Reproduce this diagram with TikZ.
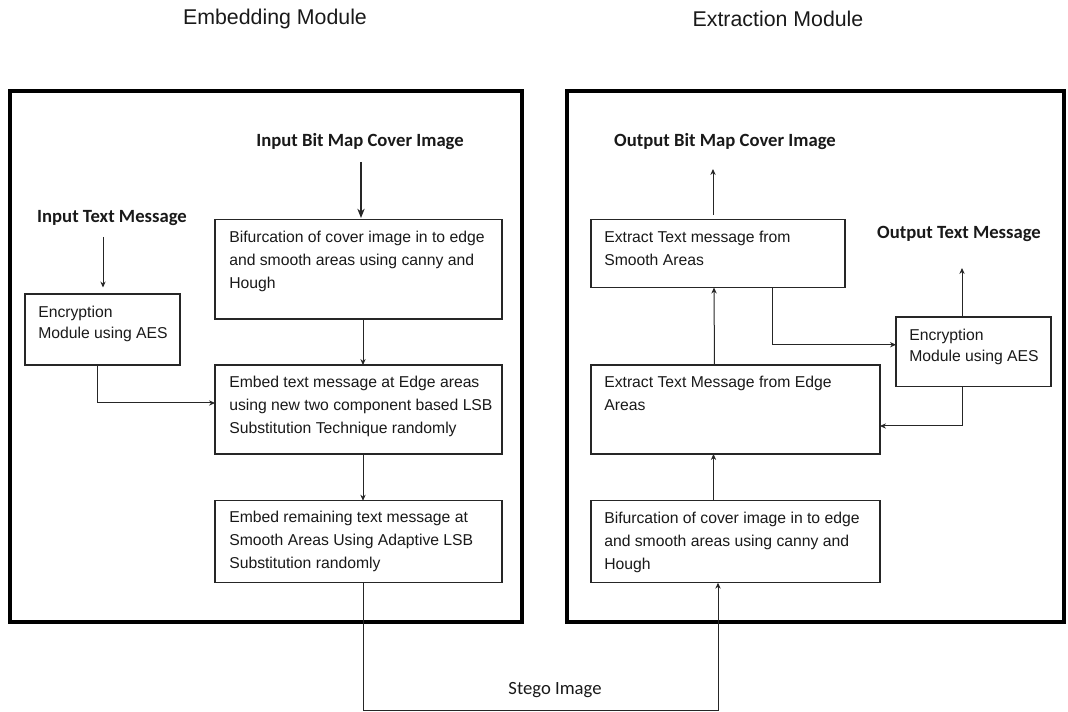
\documentclass[tikz,border=0pt]{standalone}
\usepackage{fontspec}
\setmainfont{Liberation Sans}
\newfontfamily\calfont{Carlito}
\usetikzlibrary{calc,arrows.meta}
\begin{document}
\begin{tikzpicture}[x=0.75pt,y=-0.75pt,
  box/.style={draw=black!85, line width=0.9pt, anchor=north west, inner sep=0pt, outer sep=0pt},
  outerbox/.style={draw=black, line width=2.3pt, anchor=north west, inner sep=0pt, outer sep=0pt},
  txt/.style={anchor=north west, inner sep=0pt, align=left, font=\fontsize{11.8}{17.25}\selectfont, text=black!90},
  enctxt/.style={txt, font=\fontsize{11.8}{16}\selectfont},
  lbl/.style={inner sep=0pt, font=\calfont\bfseries\fontsize{14}{16}\selectfont, text=black!90},
  reglbl/.style={inner sep=0pt, font=\calfont\fontsize{14}{16}\selectfont, text=black!90},
  ttl/.style={inner sep=0pt, font=\fontsize{16}{18}\selectfont, text=black!90},
  arr/.style={draw=black!85, line width=0.75pt, -{Stealth[length=4.5pt,width=4pt]}},
  bigarr/.style={draw=black!85, line width=0.9pt, -{Stealth[length=7pt,width=5.5pt]}},
]
\useasboundingbox (0,0) rectangle (1068,712);

% titles
\node[ttl] (embt) at (275,19) {Embedding Module};
\node[ttl] (extt) at (778,19) {Extraction Module};

% outer module boxes
\node[outerbox, minimum width=384pt, minimum height=398.25pt] (embmod) at (10,91) {};
\node[outerbox, minimum width=372.75pt, minimum height=398.25pt] (extmod) at (567,91) {};

% ---------- embedding side ----------
\node[lbl] (ibm) at (360,142) {Input Bit Map Cover Image};
\node[lbl] (itm) at (112,218) {Input Text Message};

\node[box, minimum width=215.25pt, minimum height=74.6pt] (lbif) at (215,219.5) {};
\node[txt] (lbift) at ($(lbif.north west)+(14,11)$) {Bifurcation of cover image in to edge\\and smooth areas using canny and\\Hough};

\node[box, minimum width=116.25pt, minimum height=53.25pt] (lenc) at (25,294) {};
\node[enctxt] (lenct) at ($(lenc.north west)+(13,11.5)$) {Encryption\\Module using AES};

\node[box, minimum width=215.25pt, minimum height=66.75pt] (ledge) at (215,365) {};
\node[txt] (ledget) at ($(ledge.north west)+(14,11)$) {Embed text message at Edge areas\\using new two component based LSB\\Substitution Technique randomly};

\node[box, minimum width=215.25pt, minimum height=61.5pt] (lrem) at (215,500.7) {};
\node[txt] (lremt) at ($(lrem.north west)+(14,10.5)$) {Embed remaining text message at\\Smooth Areas Using Adaptive LSB\\Substitution randomly};

% ---------- extraction side ----------
\node[lbl] (obm) at (725,142) {Output Bit Map Cover Image};
\node[lbl] (otm) at (959,234) {Output Text Message};

\node[box, minimum width=190.5pt, minimum height=51pt] (rsm) at (591,219.5) {};
\node[txt] (rsmt) at ($(rsm.north west)+(13,11)$) {Extract Text message from\\Smooth Areas};

\node[box, minimum width=116.25pt, minimum height=52.1pt] (renc) at (896,317) {};
\node[enctxt] (renct) at ($(renc.north west)+(13,11.5)$) {Encryption\\Module using AES};

\node[box, minimum width=216.75pt, minimum height=66.75pt] (redge) at (591,365) {};
\draw[black!85, line width=1.7pt] (redge.south west) -- (redge.south east);
\node[txt] (redget) at ($(redge.north west)+(13,11)$) {Extract Text Message from Edge\\Areas};

\node[box, minimum width=216.75pt, minimum height=61.5pt] (rbif) at (591,500.7) {};
\node[txt] (rbift) at ($(rbif.north west)+(13,11)$) {Bifurcation of cover image in to edge\\and smooth areas using canny and\\Hough};

% ---------- connectors, embedding ----------
\draw[bigarr] ($(lbif.north)+(2.5,-57.5)$) -- ($(lbif.north)+(2.5,-1.5)$);
\draw[arr] ($(lenc.north)+(0.5,-57)$) -- ($(lenc.north)+(0.5,-6.5)$);
\draw[arr] ($(lbif.south)+(4.5,0)$) -- ($(ledge.north)+(4.5,0)$);
\draw[arr] ($(lenc.south)+(-5.5,0)$) |- ($(ledge.west)+(0,-6.5)$);
\draw[arr] ($(ledge.south)+(4.5,0)$) -- ($(lrem.north)+(4.5,0)$);

% stego image link
\coordinate (sc) at (718,710);
\draw[arr] ($(lrem.south)+(4.5,0)$) |- (sc) -- ($(rbif.south)+(-17.5,0)$);
\node[reglbl] (stego) at (555,690) {Stego Image};

% ---------- connectors, extraction ----------
\draw[arr] ($(rsm.north)+(-5,-4.5)$) -- ($(rsm.north)+(-5,-50.5)$);
\draw[arr] ($(redge.north)+(-21,0)$) -- ($(rsm.south)+(-4,0)$);
\draw[arr] ($(rsm.south)+(54.5,0)$) |- ($(renc.west)+(0,-7)$);
\draw[arr] ($(renc.north)+(-11.5,0)$) -- ($(renc.north)+(-11.5,-49)$);
\draw[arr] ($(renc.south)+(-11.5,0)$) |- ($(redge.east)+(0,16.5)$);
\draw[arr] ($(rbif.north)+(-22,0)$) -- ($(redge.south)+(-22,0)$);
\end{tikzpicture}
\end{document}
